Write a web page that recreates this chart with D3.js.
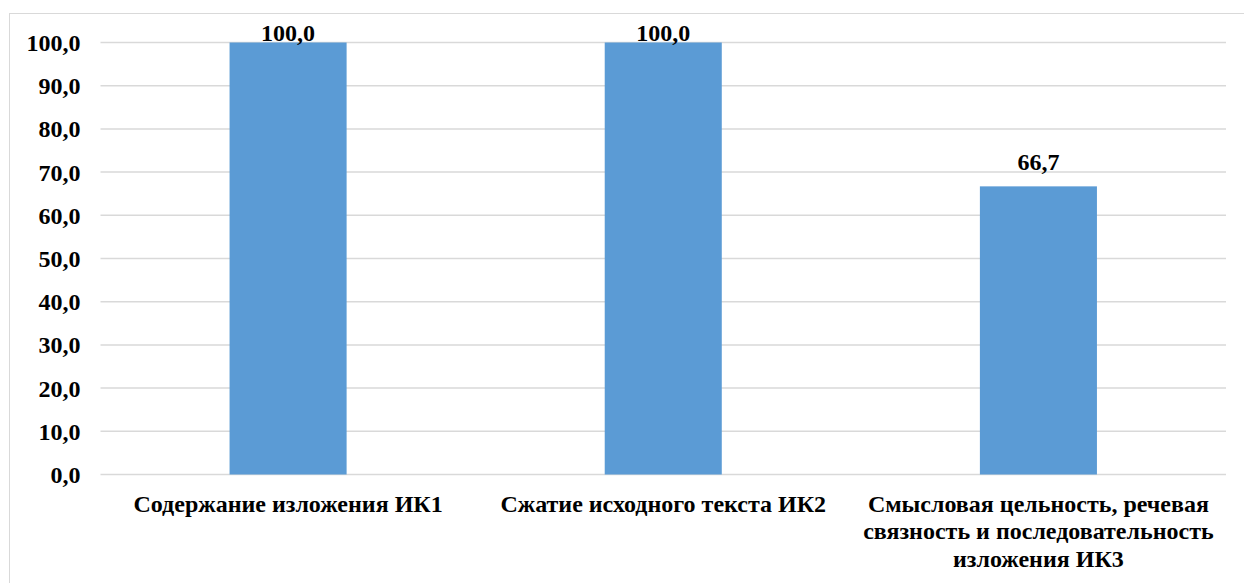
<!DOCTYPE html>
<html><head><meta charset="utf-8">
<script src="https://cdn.jsdelivr.net/npm/d3@7/dist/d3.min.js"></script>
<style>html,body{margin:0;padding:0;background:#fff;}svg{display:block;}
svg text{font-family:"Liberation Serif","Times New Roman","DejaVu Serif",serif;font-weight:bold;fill:#000;}</style>
</head><body>
<svg id="c" width="1244" height="583"></svg>
<script>
const categories = ["Содержание изложения ИК1", "Сжатие исходного текста ИК2", "Смысловая цельность, речевая связность и последовательность изложения ИК3"];
const values = [100.0, 100.0, 66.7];
const yTicks = [0,10,20,30,40,50,60,70,80,90,100];

const svg = d3.select("#c");
const W = 1244, H = 583;
const m = {left: 100.5, right: 18, top: 42.5, bottom: 108.5};
const FS = 24;
const fmt = v => d3.format(".1f")(v).replace(".", ",");

svg.append("rect").attr("x", 9.5).attr("y", 13.5).attr("width", 1300).attr("height", 700)
  .attr("fill", "#fff").attr("stroke", "#d9d9d9").attr("stroke-width", 1);

const x = d3.scaleBand().domain(categories).range([m.left, W - m.right]).paddingInner(0.688).paddingOuter(0.344);
const y = d3.scaleLinear().domain([0, 100]).range([H - m.bottom, m.top]);

const g = svg.append("g");
g.selectAll("line.grid").data(yTicks).join("line").attr("class","grid")
  .attr("x1", m.left).attr("x2", W - m.right)
  .attr("y1", d => y(d)).attr("y2", d => y(d))
  .attr("stroke", "#d9d9d9").attr("stroke-width", 1.5);

const yAxis = svg.append("g").attr("transform", `translate(${m.left},0)`)
  .call(d3.axisLeft(y).tickValues(yTicks).tickFormat(fmt).tickSize(0).tickPadding(20));
yAxis.select(".domain").remove();
yAxis.attr("font-family", null).attr("font-size", null);
yAxis.selectAll("text").style("font-size", FS + "px").attr("dy", "0.33em");

g.selectAll("rect.bar").data(values).join("rect").attr("class","bar")
  .attr("x", (d,i) => x(categories[i])).attr("width", x.bandwidth())
  .attr("y", d => y(d)).attr("height", d => y(0) - y(d))
  .attr("fill", "#5b9bd5");

g.selectAll("text.lbl").data(values).join("text").attr("class","lbl")
  .attr("x", (d,i) => x(categories[i]) + x.bandwidth()/2)
  .attr("y", d => Math.max(y(d) - 16.5, m.top - 2))
  .attr("text-anchor", "middle")
  .style("font-size", FS + "px")
  .text(fmt);

const xAxis = svg.append("g").attr("transform", `translate(0,${y(0)})`)
  .call(d3.axisBottom(x).tickSize(0).tickPadding(0));
xAxis.select(".domain").remove();
xAxis.attr("font-family", null).attr("font-size", null);
xAxis.selectAll("text").remove();

const meas = svg.append("text").style("font-size", FS + "px").attr("visibility","hidden");
function wrap(str, maxW) {
  const words = str.split(" ");
  const lines = []; let cur = "";
  for (const w of words) {
    const t = cur ? cur + " " + w : w;
    meas.text(t);
    if (meas.node().getComputedTextLength() > maxW && cur) { lines.push(cur); cur = w; }
    else cur = t;
  }
  if (cur) lines.push(cur);
  return lines;
}
const step = x.step();
xAxis.selectAll(".tick").each(function(d) {
  const lines = wrap(d, step - 2);
  const t = d3.select(this).append("text")
    .style("font-size", FS + "px")
    .attr("text-anchor","middle").attr("y", 37);
  lines.forEach((ln, i) => t.append("tspan").attr("x", 0).attr("dy", i === 0 ? 0 : 27.5).text(ln));
});
meas.remove();
</script>
</body></html>
